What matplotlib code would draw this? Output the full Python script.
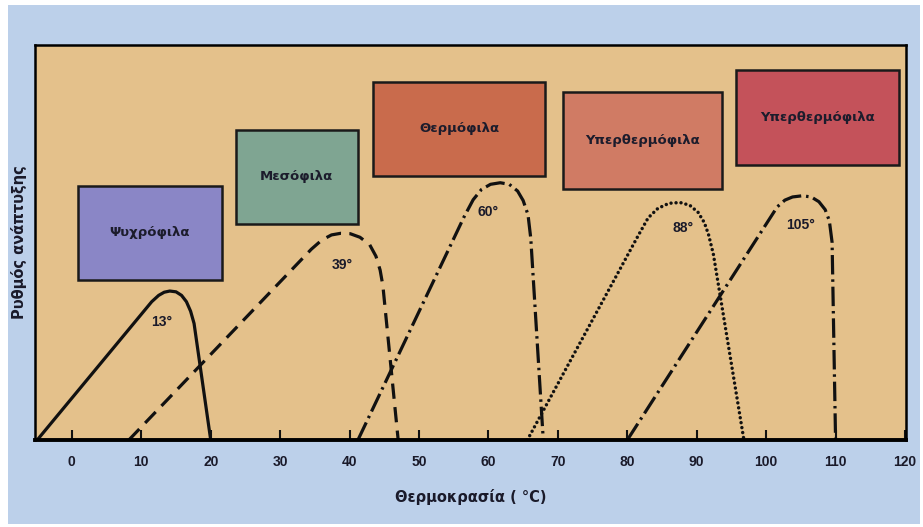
import matplotlib.pyplot as plt
from matplotlib.patches import Rectangle

plt.rcParams['font.family'] = ['Liberation Sans', 'DejaVu Sans']
plt.rcParams['lines.scale_dashes'] = False

# Καμπύλες ρυθμού ανάπτυξης ανά ομάδα μικροοργανισμών (θερμοκρασία, ρυθμός)
psychro_x = [-5.0, 11.5, 12.5, 13.3, 14.1, 15.0, 15.8, 16.5, 17.1, 17.6, 20.0]
psychro_y = [0.0, 35.0, 36.6, 37.4, 37.7, 37.5, 36.6, 35.0, 32.6, 29.5, 0.0]

meso_x = [8.2, 34.5, 36.0, 37.4, 38.7, 40.1, 41.5, 42.9, 43.8, 44.4, 44.8, 47.0]
meso_y = [0.0, 48.3, 50.6, 51.9, 52.3, 52.2, 51.3, 49.4, 46.5, 43.0, 39.0, 0.0]

thermo_x = [41.2, 56.5, 57.8, 59.0, 60.3, 61.7, 63.0, 64.2, 65.0, 65.7, 66.1, 67.9]
thermo_y = [0.0, 56.5, 60.8, 63.4, 64.7, 65.1, 64.7, 63.0, 60.6, 57.0, 51.0, 0.0]

hyper1_x = [65.6, 81.5, 83.0, 84.4, 86.0, 87.6, 89.0, 90.2, 91.1, 91.7, 92.4, 96.8]
hyper1_y = [0.0, 51.5, 56.2, 58.6, 59.9, 60.1, 59.4, 57.6, 55.0, 52.0, 47.0, 0.0]

hyper2_x = [80.0, 101.6, 102.7, 103.8, 105.2, 106.5, 107.6, 108.5, 109.1, 109.5, 110.0]
hyper2_y = [0.0, 59.0, 60.7, 61.5, 61.8, 61.5, 60.3, 58.3, 55.5, 50.0, 0.0]

optimum = [13, 39, 60, 88, 105]
names = ['Ψυχρόφιλα', 'Μεσόφιλα', 'Θερμόφιλα', 'Υπερθερμόφιλα', 'Υπερθερμόφιλα']
xticks = [0, 10, 20, 30, 40, 50, 60, 70, 80, 90, 100, 110, 120]

wide = ['DejaVu Sans']
ink = '#1a1a2a'

fig = plt.figure(figsize=(9.23, 5.27), dpi=100, facecolor='white')
fig.patches.append(Rectangle((0.009, 0.006), 0.988, 0.984, transform=fig.transFigure,
                             facecolor='#bcd0ea', edgecolor='none', zorder=-5))
ax = fig.add_axes([0.038, 0.165, 0.944, 0.75])
ax.set_zorder(2)
ax.set_facecolor('#e4c18b')
ax.set_xlim(-5.3, 120.2)
ax.set_ylim(0, 100)

lw = 2.3
ax.plot(psychro_x, psychro_y, color='#111111', lw=lw, solid_capstyle='butt')
ax.plot(meso_x, meso_y, color='#111111', lw=lw, dashes=(11, 6), dash_capstyle='butt')
ax.plot(thermo_x, thermo_y, color='#111111', lw=lw, dashes=(14, 3.5, 1.8, 3.5),
        dash_capstyle='butt')
ax.plot(hyper1_x, hyper1_y, color='#111111', lw=2.5, dashes=(0.01, 3.6),
        dash_capstyle='round')
ax.plot(hyper2_x, hyper2_y, color='#111111', lw=lw, dashes=(14, 3.5, 1.8, 3.5),
        dash_capstyle='butt')

# Ετικέτες βέλτιστης θερμοκρασίας κάτω από την κορυφή
label_y = [29.9, 44.3, 57.7, 53.7, 54.4]
for t, y in zip(optimum, label_y):
    ax.text(t, y, f'{t}°', ha='center', va='center', fontsize=10,
            fontweight='bold', color=ink)

# Πλαίσια ονομάτων ομάδων
boxes = [(0.9, 40.5, 20.7, 23.8, '#8a86c6'),
         (23.6, 54.7, 17.6, 23.8, '#7fa592'),
         (43.4, 66.8, 24.8, 23.8, '#c96b4c'),
         (70.7, 63.5, 23.0, 24.6, '#d07b64'),
         (95.7, 69.6, 23.4, 24.1, '#c4525a')]
for (x0, y0, w, h, c), name in zip(boxes, names):
    ax.add_patch(Rectangle((x0, y0), w, h, facecolor=c, edgecolor='#1a1a1a',
                           lw=1.8, zorder=3))
    ax.text(x0 + w / 2, y0 + h / 2, name, ha='center', va='center', fontsize=9.5,
            fontweight='bold', color='#1c1c2c', family=wide, zorder=4)

ax.set_xticks(xticks)
ax.set_yticks([])
ax.tick_params(axis='x', direction='in', length=7, width=1.5, pad=11,
               labelsize=10, color='#111111')
for lab in ax.get_xticklabels():
    lab.set_fontweight('bold')
    lab.set_color(ink)

for side in ['left', 'right', 'top']:
    ax.spines[side].set_linewidth(1.8)
ax.spines['bottom'].set_linewidth(2.8)

ax.set_xlabel('Θερμοκρασία ( °C)', fontsize=10.5, fontweight='bold',
              color=ink, family=wide, labelpad=14)
ax.set_ylabel('Ρυθμός ανάπτυξης', fontsize=10.5, fontweight='bold',
              color=ink, family=wide, labelpad=6)

fig.savefig('out.png', dpi=100)
